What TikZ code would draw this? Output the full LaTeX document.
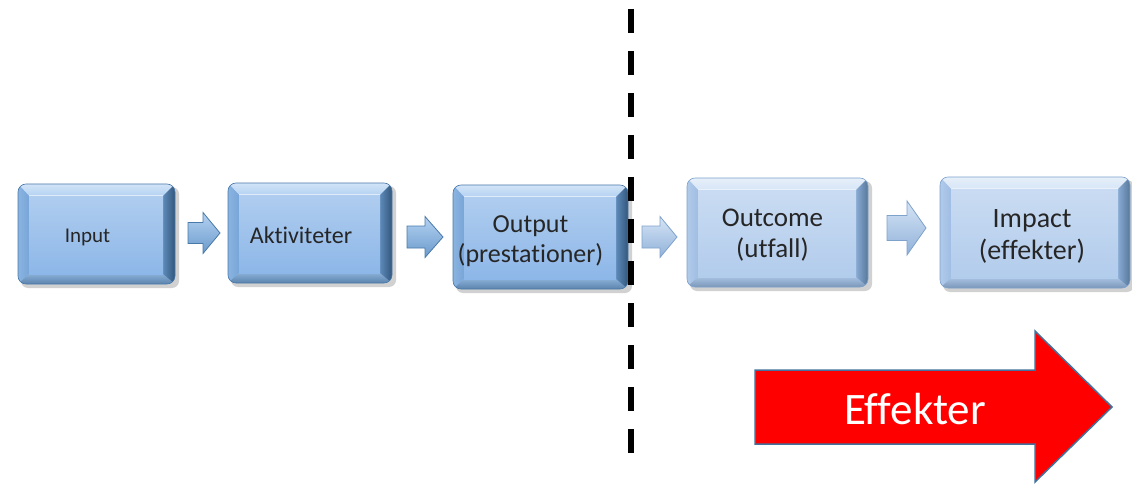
\documentclass[tikz,border=0pt]{standalone}
\usepackage{fontspec}
\setmainfont{Carlito}[Ligatures={NoCommon}]
\usetikzlibrary{calc}
\definecolor{Aface}{HTML}{8DB7E8}
\definecolor{Atop}{HTML}{B4D2F2}
\definecolor{Aleft}{HTML}{78A6D8}
\definecolor{Abot}{HTML}{6B9ACB}
\definecolor{Aright}{HTML}{3E6C9A}
\definecolor{Aline}{HTML}{4A79A8}
\definecolor{Bface}{HTML}{B2CCEC}
\definecolor{Btop}{HTML}{D6E5F6}
\definecolor{Bleft}{HTML}{A0BEE3}
\definecolor{Bbot}{HTML}{90B1D9}
\definecolor{Bright}{HTML}{6D95C2}
\definecolor{Bline}{HTML}{7FA2CB}
\definecolor{arrowline}{HTML}{41719C}
\definecolor{dashblack}{HTML}{000000}
\tikzset{
  boxtext/.style={align=center,text=black!85,inner sep=0pt},
  smallarrow/.style={draw=#1line,line width=0.8pt,top color=#1top,bottom color=#1bot},
  bigarrow/.style={fill=red,draw=arrowline,line width=1.5pt,line join=miter},
  divider/.style={draw=dashblack,line width=6pt,dash pattern=on 24pt off 18pt}
}
% #1 name, #2 x1, #3 y1, #4 x2, #5 y2, #6 scheme, #7 font size, #8 text, #9 text offset
\newcommand\bevbox[9]{%
  \fill[black!40,opacity=.45,rounded corners=7pt] (#2+3,#3+3) rectangle (#4+4,#5+4);
  \begin{scope}
    \clip[rounded corners=8pt] (#2,#3) rectangle (#4,#5);
    \fill[#6face] (#2,#3) rectangle (#4,#5);
    \shade[top color=#6top!60!white,bottom color=#6top] (#2,#3) -- (#4,#3) -- (#4-12,#3+12) -- (#2+11,#3+12) -- cycle;
    \shade[left color=#6left!70!#6top,right color=#6left] (#2,#3) -- (#2+11,#3+12) -- (#2+11,#5-10) -- (#2,#5) -- cycle;
    \shade[top color=#6bot!80!white,bottom color=#6bot!85!black] (#2,#5) -- (#2+11,#5-10) -- (#4-12,#5-10) -- (#4,#5) -- cycle;
    \shade[left color=#6right!60!#6face,right color=#6right!80!black] (#4,#3) -- (#4-12,#3+12) -- (#4-12,#5-10) -- (#4,#5) -- cycle;
    \shade[top color=#6face!70!white,bottom color=#6face] (#2+11,#3+12) rectangle (#4-12,#5-10);
    \draw[white,opacity=.6,line width=1pt] (#2+11,#3+12) -- (#4-12,#3+12);
  \end{scope}
  \draw[#6line,line width=0.6pt,rounded corners=8pt] (#2,#3) rectangle (#4,#5);
  \node[boxtext,font=\fontsize{#7pt}{\the\dimexpr #7pt*23/20\relax}\selectfont,shift={(#9)}] (#1) at ({(#2+#4)/2},{(#3+#5)/2}) {#8};
}
% #1 name, #2 x start, #3 head start, #4 tip x, #5 centre y, #6 body half height, #7 head half height, #8 scheme
\newcommand\smallarr[8]{%
  \coordinate (#1) at (#2,#5);
  \path[smallarrow=#8] (#2,#5-#6) -- (#3,#5-#6) -- (#3,#5-#7) -- (#4,#5) -- (#3,#5+#7) -- (#3,#5+#6) -- (#2,#5+#6) -- cycle;
}
\begin{document}
\begin{tikzpicture}[x=1pt,y=-1pt]
  \useasboundingbox (0,0) rectangle (1132,489);
  \bevbox{input}{18}{184}{175}{284}{A}{21}{Input}{-9,3}
  \bevbox{akt}{228}{183}{392}{283}{A}{24}{Aktiviteter}{-9,2}
  \bevbox{output}{453}{185}{628}{289}{A}{26}{Output\\(prestationer)}{-10,4}
  \bevbox{outcome}{687}{178}{868}{287}{B}{27}{Outcome\\(utfall)}{-5,3}
  \bevbox{impact}{940}{177}{1130}{288}{B}{28}{Impact\\(effekter)}{-3,4}
  \smallarr{a1}{188}{203}{220}{233}{10.5}{20.5}{A}
  \smallarr{a2}{407}{425}{443}{237}{11}{20.5}{A}
  \smallarr{a3}{642}{660}{677}{237}{11}{20.5}{B}
  \smallarr{a4}{887}{907}{926}{228}{12.5}{27}{B}
  \coordinate (dtop) at (631,9);
  \coordinate (dbot) at (631,453);
  \draw[divider] (dtop) -- (dbot);
  \draw[bigarrow] (755,370) -- (1035,370) -- (1035,331) -- (1112,407) -- (1035,482) -- (1035,444) -- (755,444) -- cycle;
  \node[text=white,font=\fontsize{45pt}{50pt}\selectfont,inner sep=0pt] (eff) at (915,409) {Effekter};
\end{tikzpicture}
\end{document}
